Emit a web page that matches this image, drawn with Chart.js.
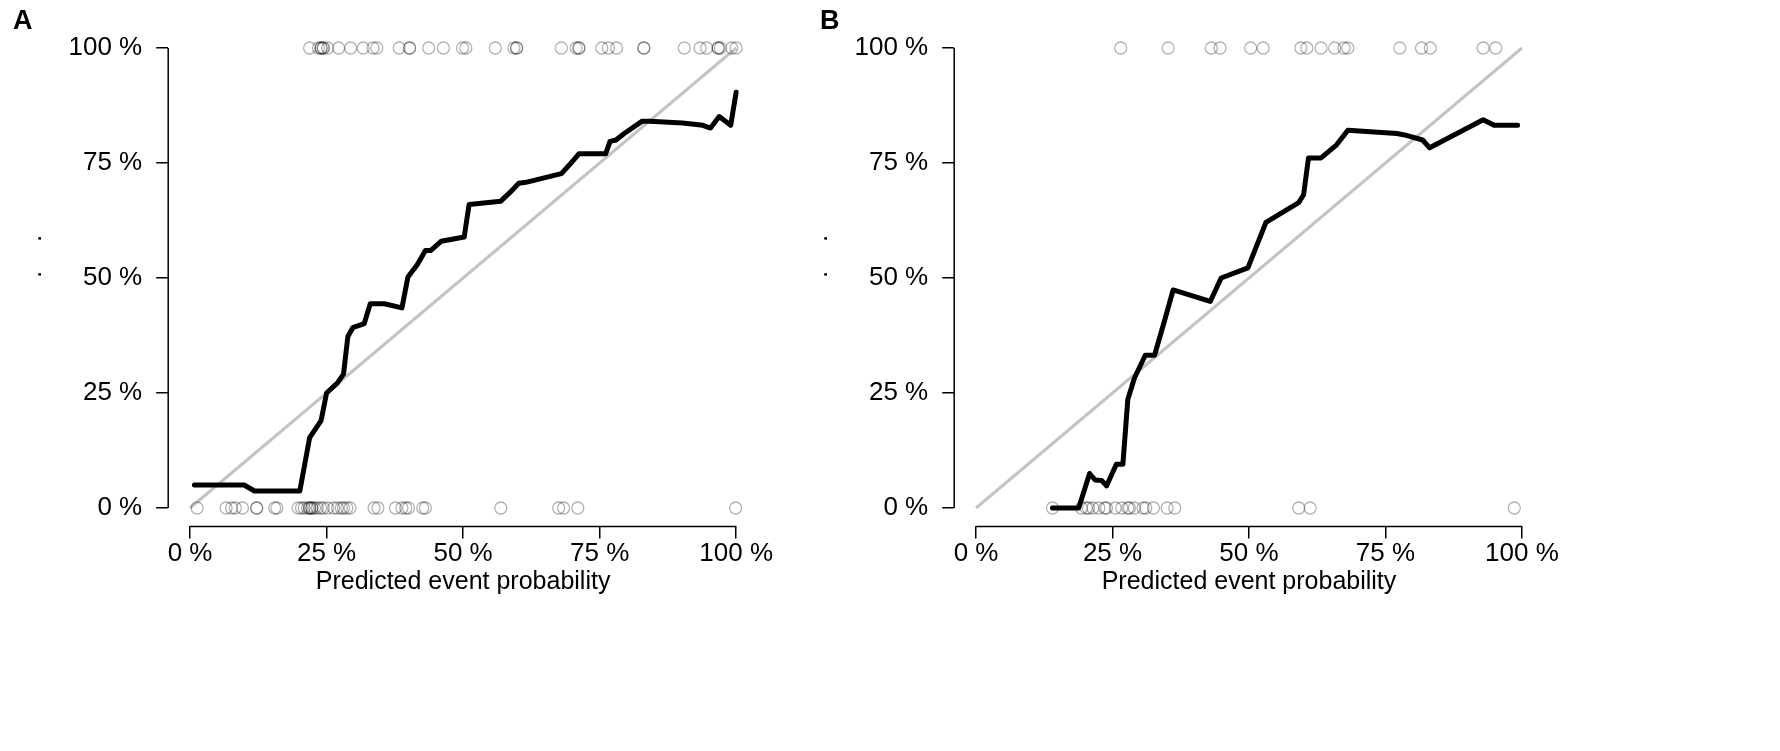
<!DOCTYPE html>
<html>
<head>
<meta charset="utf-8">
<script src="https://cdn.jsdelivr.net/npm/chart.js@4.4.1/dist/chart.umd.min.js"></script>
<style>
html,body{margin:0;padding:0;background:#fff;}
#wrap{position:relative;width:1780px;height:751px;overflow:hidden;}
canvas{position:absolute;top:0;}
#cA{left:0;}
#cB{left:786px;}
</style>
</head>
<body>
<div id="wrap">
<canvas id="cA" width="890" height="751"></canvas>
<canvas id="cB" width="994" height="751"></canvas>
</div>
<script>
// tick positions shared by both axes
const probTicks=[0,0.25,0.5,0.75,1];

// panel A
const curveAx=[0.008,0.099,0.118,0.201,0.219,0.240,0.250,0.270,0.281,0.289,0.298,0.319,0.330,0.356,0.388,0.399,0.416,0.431,0.441,0.460,0.502,0.511,0.569,0.585,0.602,0.615,0.680,0.694,0.712,0.761,0.769,0.780,0.795,0.828,0.842,0.902,0.939,0.953,0.969,0.990,1.0];
const curveAy=[0.050,0.050,0.037,0.037,0.153,0.190,0.250,0.272,0.291,0.373,0.392,0.401,0.444,0.444,0.435,0.502,0.529,0.560,0.560,0.580,0.589,0.660,0.667,0.685,0.706,0.708,0.727,0.745,0.770,0.770,0.797,0.800,0.814,0.841,0.841,0.837,0.832,0.826,0.851,0.832,0.904];
const eventsA=[0.219,0.235,0.240,0.240,0.244,0.244,0.252,0.272,0.294,0.317,0.335,0.342,0.383,0.402,0.402,0.437,0.464,0.499,0.505,0.559,0.593,0.598,0.598,0.680,0.707,0.712,0.712,0.754,0.766,0.781,0.831,0.831,0.905,0.934,0.946,0.967,0.967,0.971,0.992,1.0];
const nonEventsA=[0.013,0.066,0.076,0.083,0.096,0.122,0.122,0.155,0.159,0.198,0.204,0.209,0.215,0.219,0.219,0.223,0.223,0.228,0.233,0.239,0.244,0.252,0.263,0.270,0.277,0.281,0.287,0.293,0.337,0.344,0.376,0.388,0.395,0.400,0.426,0.431,0.569,0.675,0.684,0.710,0.999];

// panel B
const curveBx=[0.140,0.188,0.208,0.218,0.230,0.239,0.257,0.269,0.278,0.290,0.310,0.327,0.345,0.361,0.429,0.449,0.498,0.531,0.591,0.600,0.609,0.632,0.660,0.681,0.771,0.785,0.818,0.831,0.929,0.949,0.992];
const curveBy=[0,0,0.075,0.061,0.060,0.048,0.095,0.095,0.236,0.282,0.332,0.332,0.406,0.474,0.449,0.500,0.522,0.621,0.664,0.681,0.761,0.761,0.789,0.821,0.814,0.811,0.800,0.783,0.844,0.832,0.832];
const eventsB=[0.265,0.352,0.431,0.447,0.503,0.526,0.595,0.606,0.632,0.657,0.674,0.681,0.776,0.816,0.832,0.929,0.952];
const nonEventsB=[0.140,0.193,0.202,0.206,0.214,0.225,0.236,0.239,0.255,0.267,0.278,0.281,0.290,0.306,0.311,0.325,0.350,0.364,0.591,0.612,0.986];

const fam='"Liberation Sans", Arial, sans-serif';

// R style axes: line only from first to last tick
const rAxes={id:'rAxes',afterDraw(chart){
 const x=chart.scales.x,y=chart.scales.y,a=chart.chartArea,c=chart.ctx;
 c.save();c.strokeStyle='#000';c.lineWidth=1.5;c.beginPath();
 c.moveTo(x.getPixelForValue(0),a.bottom);c.lineTo(x.getPixelForValue(1),a.bottom);
 c.moveTo(a.left,y.getPixelForValue(0));c.lineTo(a.left,y.getPixelForValue(1));
 c.stroke();c.restore();
}};
const panelLetter={id:'panelLetter',afterDraw(chart,args,opts){
 const c=chart.ctx;c.save();c.font='bold 27px '+fam;c.fillStyle='#000';c.textBaseline='top';
 c.fillText(opts.text,opts.x,opts.y);c.restore();
}};

function pts(xs,ys){return xs.map((v,i)=>({x:v,y:ys[i]}));}
function flat(xs,lev){return xs.map(v=>({x:v,y:lev}));}

function axis(extra){
 return Object.assign({
  type:'linear',min:-0.04,max:1.04,
  afterBuildTicks:s=>{s.ticks=probTicks.map(v=>({value:v}));},
  grid:{drawOnChartArea:false,drawTicks:true,tickLength:12,color:'#000',lineWidth:1.5},
  border:{display:false}
 },extra);
}

function makeChart(id,letterX,padRight,cx,cy,ev,nev){
 return new Chart(document.getElementById(id),{
  type:'scatter',
  data:{datasets:[
   {data:pts(cx,cy),showLine:true,borderColor:'#000',borderWidth:5,pointRadius:0,borderJoinStyle:'round',borderCapStyle:'round'},
   {data:flat(ev,1),pointRadius:6,backgroundColor:'rgba(0,0,0,0)',borderColor:'rgba(0,0,0,0.3)',borderWidth:1.3},
   {data:flat(nev,0),pointRadius:6,backgroundColor:'rgba(0,0,0,0)',borderColor:'rgba(0,0,0,0.3)',borderWidth:1.3},
   {data:[{x:0,y:0},{x:1,y:1}],showLine:true,borderColor:'#c4c4c4',borderWidth:3,pointRadius:0}
  ]},
  options:{
   responsive:false,animation:false,
   layout:{padding:{top:28.6,right:padRight,bottom:0,left:0}},
   plugins:{legend:{display:false},tooltip:{enabled:false},panelLetter:{text:id==='cA'?'A':'B',x:letterX,y:8}},
   scales:{
    x:axis({ticks:{callback:v=>Math.round(v*100)+' %',font:{family:fam,size:26},color:'#000',autoSkip:false,maxRotation:0,padding:0},
     title:{display:true,text:'Predicted event probability',font:{family:fam,size:25},color:'#000',padding:{top:0,bottom:154}},
     afterFit:s=>{s.height=224.6;}}),
    y:axis({ticks:{callback:v=>Math.round(v*100)+' %',font:{family:fam,size:26},color:'#000',autoSkip:false,padding:14},
     title:{display:true,text:'      .    .',font:{family:fam,size:26},color:'#000',padding:{top:18,bottom:0}},
     afterFit:s=>{s.width=168.2;}})
   }
  },
  plugins:[rAxes,panelLetter]
 });
}

makeChart('cA',13,132,curveAx,curveAy,eventsA,nonEventsA);
makeChart('cB',34,236.2,curveBx,curveBy,eventsB,nonEventsB);
</script>
</body>
</html>
